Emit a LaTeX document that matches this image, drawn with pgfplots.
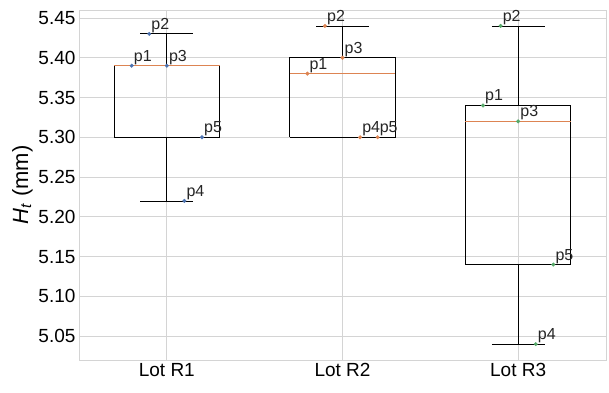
\documentclass[border=0pt]{standalone}
\usepackage{fontspec}
\setmainfont{Liberation Sans}
\usepackage{pgfplots}
\usepackage{pgfplotstable}
\pgfplotsset{compat=1.18}
\definecolor{sbBlue}{HTML}{4C72B0}
\definecolor{sbOrange}{HTML}{DD8452}
\definecolor{sbGreen}{HTML}{55A868}
\definecolor{gridGray}{HTML}{D4D4D4}

% box outlines: Q1/Q3 rectangle per lot (box width 0.6), nan rows break the line
\pgfplotstableread{
x y
0.7 5.30
1.3 5.30
1.3 5.39
0.7 5.39
0.7 5.30
nan nan
1.7 5.30
2.3 5.30
2.3 5.40
1.7 5.40
1.7 5.30
nan nan
2.7 5.14
3.3 5.14
3.3 5.34
2.7 5.34
2.7 5.14
}\tblBoxes
% whiskers and caps (cap width 0.3)
\pgfplotstableread{
x y
1.0 5.39
1.0 5.43
nan nan
0.85 5.43
1.15 5.43
nan nan
1.0 5.30
1.0 5.22
nan nan
0.85 5.22
1.15 5.22
nan nan
2.0 5.40
2.0 5.44
nan nan
1.85 5.44
2.15 5.44
nan nan
1.85 5.30
2.15 5.30
nan nan
3.0 5.34
3.0 5.44
nan nan
2.85 5.44
3.15 5.44
nan nan
3.0 5.14
3.0 5.04
nan nan
2.85 5.04
3.15 5.04
}\tblWhisk

\begin{document}
\begin{tikzpicture}
\useasboundingbox (-79pt,-32pt) rectangle (530pt,360pt);
\begin{axis}[
  scale only axis, width=527pt, height=350pt,
  at={(0,0)}, anchor=south west,
  font=\fontsize{19}{22}\selectfont,
  xmin=0.5, xmax=3.5, ymin=5.02, ymax=5.46,
  xtick={1,2,3}, xticklabels={Lot R1,Lot R2,Lot R3},
  ytick={5.05,5.10,...,5.45},
  yticklabel style={/pgf/number format/.cd,fixed,fixed zerofill,precision=2,assume math mode=true},
  major tick length=0pt,
  grid=major, grid style={gridGray, line width=0.9pt},
  axis line style={gridGray, line width=0.9pt},
  ylabel={\textit{H}\kern0.5pt\textsubscript{\textit{t}} (mm)},
  ylabel style={font=\fontsize{22}{24}\selectfont, yshift=-1pt},
  unbounded coords=jump,
  nodes near coords style={anchor=base west, inner sep=0pt, xshift=2pt, yshift=4.5pt,
    text=black!85, font=\fontsize{16}{18}\selectfont},
]
\addplot[black, line width=0.8pt, no marks, line join=miter] table {\tblBoxes};
\addplot[black, line width=0.8pt, no marks] table {\tblWhisk};
% medians
\addplot[sbOrange, line width=1.3pt, no marks] coordinates {(0.7,5.39) (1.3,5.39)};
\addplot[sbOrange, line width=1.3pt, no marks] coordinates {(1.7,5.38) (2.3,5.38)};
\addplot[sbOrange, line width=1.3pt, no marks] coordinates {(2.7,5.32) (3.3,5.32)};

\addplot[only marks, mark=*, mark size=1.8pt, sbBlue,
  nodes near coords, point meta=explicit symbolic]
  table[meta=label] {
x y label
0.8 5.39 p1
0.9 5.43 p2
1.0 5.39 p3
1.1 5.22 p4
1.2 5.30 p5
};
\addplot[only marks, mark=*, mark size=1.8pt, sbOrange,
  nodes near coords, point meta=explicit symbolic]
  table[meta=label] {
x y label
1.8 5.38 p1
1.9 5.44 p2
2.0 5.40 p3
2.1 5.30 p4
2.2 5.30 p5
};
\addplot[only marks, mark=*, mark size=1.8pt, sbGreen,
  nodes near coords, point meta=explicit symbolic]
  table[meta=label] {
x y label
2.8 5.34 p1
2.9 5.44 p2
3.0 5.32 p3
3.1 5.04 p4
3.2 5.14 p5
};
\end{axis}
\end{tikzpicture}
\end{document}
